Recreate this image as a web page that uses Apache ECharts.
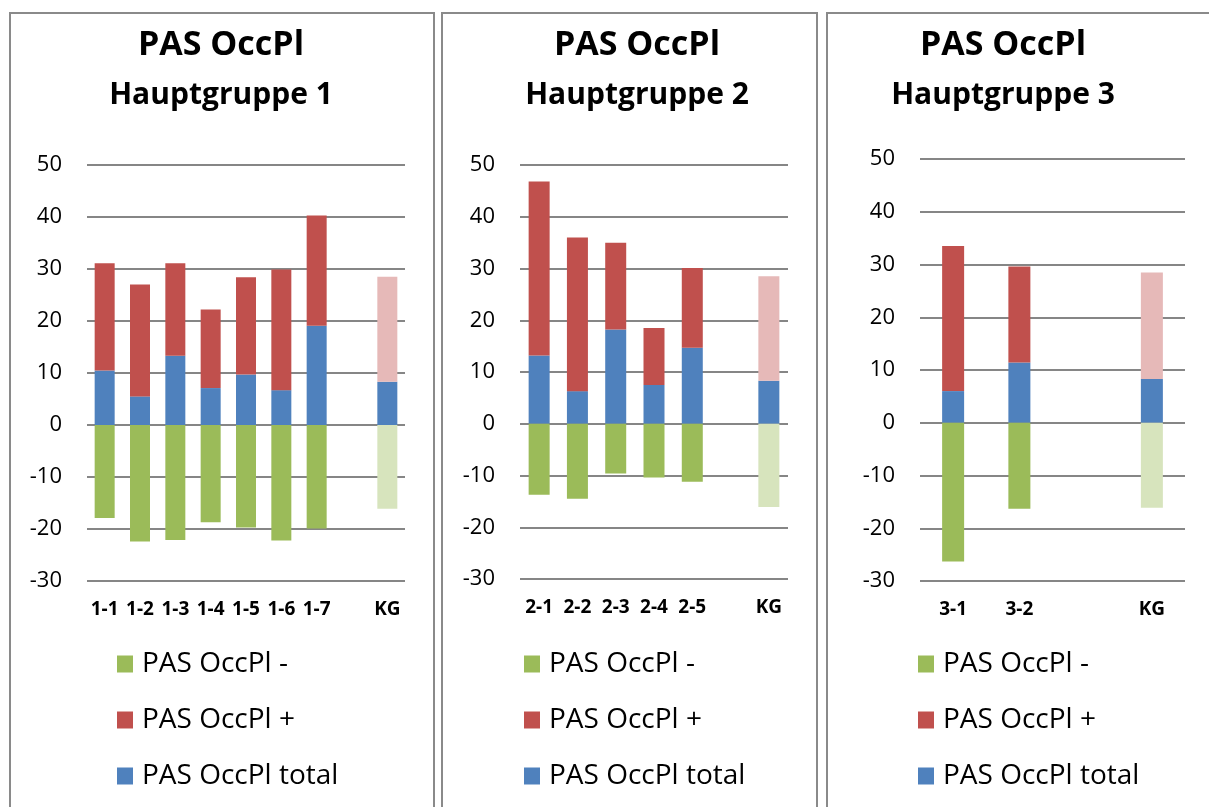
<!DOCTYPE html>
<html>
<head>
<meta charset="utf-8">
<script src="https://cdn.jsdelivr.net/npm/echarts@6/dist/echarts.min.js"></script>
<style>
  html, body { margin: 0; padding: 0; background: #fff; }
  #chart { width: 1209px; height: 807px; }
</style>
</head>
<body>
<div id="chart"></div>
<script>
// Hauptgruppe 1
const cats1 = ['1-1', '1-2', '1-3', '1-4', '1-5', '1-6', '1-7', '', 'KG']
const total1 = [10.5, 5.5, 13.3, 7.1, 9.7, 6.7, 19.1, null, 8.3]
const plus1 = [20.6, 21.5, 17.8, 15.1, 18.7, 23.2, 21.2, null, 20.2]
const minus1 = [-17.9, -22.4, -22.1, -18.7, -19.7, -22.2, -19.9, null, -16.1]

// Hauptgruppe 2
const cats2 = ['2-1', '2-2', '2-3', '2-4', '2-5', '', 'KG']
const total2 = [13.2, 6.3, 18.2, 7.5, 14.7, null, 8.3]
const plus2 = [33.6, 29.7, 16.8, 11.0, 15.4, null, 20.2]
const minus2 = [-13.7, -14.5, -9.6, -10.4, -11.2, null, -16.1]

// Hauptgruppe 3
const cats3 = ['3-1', '3-2', '', 'KG']
const total3 = [6.0, 11.4, null, 8.3]
const plus3 = [27.5, 18.2, null, 20.2]
const minus3 = [-26.3, -16.3, null, -16.1]

const yTicks = [-30, -20, -10, 0, 10, 20, 30, 40, 50]
const names = ['PAS OccPl -', 'PAS OccPl +', 'PAS OccPl total']
const groups = ['Hauptgruppe 1', 'Hauptgruppe 2', 'Hauptgruppe 3']

const FONT = "'Open Sans', 'Noto Sans', sans-serif"
const colors = {minus: '#9BBB59', plus: '#C0504D', total: '#4F81BD'}
const kgColors = {minus: '#D7E4BD', plus: '#E6B9B8', total: '#4F81BD'}

const panels = [
  {cats: cats1, total: total1, plus: plus1, minus: minus1, grid: {left: 87, top: 165, width: 318, height: 416}, bw: 20, cx: 221, legendX: 117},
  {cats: cats2, total: total2, plus: plus2, minus: minus2, grid: {left: 520, top: 165, width: 268, height: 414}, bw: 21, cx: 637, legendX: 524},
  {cats: cats3, total: total3, plus: plus3, minus: minus3, grid: {left: 920, top: 159, width: 265, height: 422}, bw: 22, cx: 1003, legendX: 918}
]

// KG-Balken heller einfärben
function toData(vals, cats, key) {
  return vals.map((v, i) => {
    if (v === null) return '-'
    if (cats[i] === 'KG') return {value: v, itemStyle: {color: kgColors[key]}}
    return v
  })
}

const grids = [], xAxes = [], yAxes = [], series = [], titles = [], legends = []

panels.forEach((p, i) => {
  grids.push(p.grid)
  xAxes.push({
    type: 'category',
    gridIndex: i,
    data: p.cats,
    position: 'bottom',
    axisLine: {show: false},
    axisTick: {show: false},
    axisLabel: {
      interval: 0,
      margin: 19,
      color: '#000',
      fontFamily: FONT,
      fontWeight: 'bold',
      fontSize: 19
    }
  })
  yAxes.push({
    type: 'value',
    gridIndex: i,
    min: yTicks[0],
    max: yTicks[yTicks.length - 1],
    interval: 10,
    axisLine: {show: false},
    axisTick: {show: false},
    axisLabel: {margin: 25, color: '#000', fontFamily: FONT, fontSize: 22},
    splitLine: {lineStyle: {color: '#868686', width: 2}}
  })
  const stack = 'p' + i
  series.push({
    name: names[2], type: 'bar', stack: stack, xAxisIndex: i, yAxisIndex: i,
    barWidth: p.bw, itemStyle: {color: colors.total},
    data: toData(p.total, p.cats, 'total')
  })
  series.push({
    name: names[1], type: 'bar', stack: stack, xAxisIndex: i, yAxisIndex: i,
    barWidth: p.bw, itemStyle: {color: colors.plus},
    data: toData(p.plus, p.cats, 'plus')
  })
  series.push({
    name: names[0], type: 'bar', stack: stack, xAxisIndex: i, yAxisIndex: i,
    barWidth: p.bw, itemStyle: {color: colors.minus},
    data: toData(p.minus, p.cats, 'minus')
  })
  titles.push({
    text: 'PAS OccPl',
    subtext: groups[i],
    left: p.cx,
    top: 28,
    textAlign: 'center',
    itemGap: 18,
    padding: 0,
    textStyle: {fontFamily: FONT, fontWeight: 'bold', fontSize: 34, color: '#000'},
    subtextStyle: {fontFamily: FONT, fontWeight: 'bold', fontSize: 30, color: '#000'}
  })
  legends.push({
    data: names,
    orient: 'vertical',
    left: p.legendX,
    top: 650,
    padding: 0,
    icon: 'rect',
    itemWidth: 16,
    itemHeight: 17,
    itemGap: 28,
    selectedMode: false,
    textStyle: {fontFamily: FONT, fontSize: 28, color: '#000', lineHeight: 25, padding: [0, 0, 0, 4]}
  })
})

const chart = echarts.init(document.getElementById('chart'))
chart.setOption({
  backgroundColor: '#fff',
  animation: false,
  title: titles,
  legend: legends,
  grid: grids,
  xAxis: xAxes,
  yAxis: yAxes,
  series: series,
  graphic: [
    {type: 'rect', shape: {x: 10, y: 13, width: 424, height: 820}, style: {fill: 'none', stroke: '#8a8a8a', lineWidth: 2}},
    {type: 'rect', shape: {x: 442, y: 13, width: 375, height: 820}, style: {fill: 'none', stroke: '#8a8a8a', lineWidth: 2}},
    {type: 'rect', shape: {x: 827, y: 13, width: 420, height: 820}, style: {fill: 'none', stroke: '#8a8a8a', lineWidth: 2}}
  ]
})
</script>
</body>
</html>
